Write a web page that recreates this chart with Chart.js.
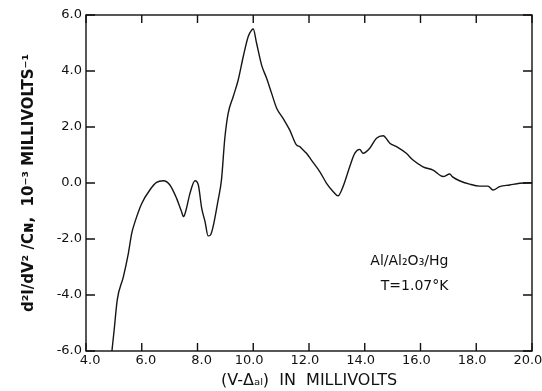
<!DOCTYPE html>
<html>
<head>
<meta charset="utf-8">
<script src="https://cdn.jsdelivr.net/npm/chart.js@4"></script>
<style>
  html, body { margin: 0; padding: 0; background: #fff; }
  #wrap { width: 542px; height: 391px; }
</style>
</head>
<body>
<div id="wrap"><canvas id="chart-d2i" width="542" height="391"></canvas></div>
<script>
// Trace: bias (mV) and d2I/dV2 / CN (1e-3 mV^-1)
const voltage = [4.93, 5.01, 5.12, 5.34, 5.52, 5.64, 5.76, 6.0, 6.29, 6.53, 6.77, 7.01, 7.25, 7.42, 7.5,
    7.58, 7.73, 7.91, 8.03, 8.15, 8.27, 8.38, 8.47, 8.56, 8.74, 8.86, 8.98, 9.1, 9.28, 9.46,
    9.64, 9.82, 9.94, 10.0, 10.12, 10.3, 10.48, 10.66, 10.84, 11.07, 11.31, 11.55, 11.67, 11.73, 11.91,
    12.1, 12.39, 12.63, 12.87, 13.04, 13.22, 13.46, 13.64, 13.82, 13.94, 14.18, 14.42, 14.66, 14.9, 15.14,
    15.49, 15.73, 16.09, 16.45, 16.81, 17.05, 17.15, 17.4, 17.76, 18.12, 18.42, 18.6, 18.84, 19.2, 19.56,
    19.91, 20.0];
const signal = [-6.0, -5.25, -4.18, -3.35, -2.51, -1.8, -1.38, -0.73, -0.25, 0.02, 0.08, -0.07, -0.55, -1.0, -1.2,
    -1.0, -0.37, 0.08, -0.07, -0.9, -1.38, -1.89, -1.85, -1.56, -0.61, 0.11, 1.6, 2.49, 3.08, 3.68,
    4.51, 5.23, 5.46, 5.5, 4.99, 4.21, 3.74, 3.2, 2.67, 2.31, 1.89, 1.36, 1.3, 1.24, 1.06,
    0.8, 0.4, -0.01, -0.31, -0.46, -0.13, 0.58, 1.06, 1.2, 1.06, 1.24, 1.6, 1.69, 1.42, 1.3,
    1.06, 0.82, 0.58, 0.46, 0.23, 0.32, 0.22, 0.08, -0.04, -0.11, -0.11, -0.25, -0.13, -0.07, -0.01,
    0.01, 0.0];

const xTitle = '(V-Δₐₗ)  IN  MILLIVOLTS';
const yTitle = 'd²I/dV² /Cɴ,  10⁻³ MILLIVOLTS⁻¹';
const noteLines = ['Al/Al₂O₃/Hg', 'T=1.07°K'];
const noteX = 17.0;
const noteY = [-2.81, -3.7];

const FONT = "'DejaVu Sans', sans-serif";

// hand-lettered labels sit a little off their ticks: one digit to the right, two digits to the left
function xLabel(v) {
    const s = v.toFixed(1);
    return v < 10 ? '  ' + s : s + '  ';
}

// frame round the plot plus inward ticks on all four sides
const framePlugin = {
    id: 'frame',
    afterDraw(chart) {
        const { ctx, chartArea: a, scales: { x, y } } = chart;
        ctx.save();
        ctx.strokeStyle = '#111';
        ctx.lineWidth = 1.4;
        ctx.strokeRect(a.left, a.top, a.right - a.left, a.bottom - a.top);
        ctx.beginPath();
        x.ticks.forEach(t => {
            const px = x.getPixelForValue(t.value);
            ctx.moveTo(px, a.bottom); ctx.lineTo(px, a.bottom - 8);
            ctx.moveTo(px, a.top); ctx.lineTo(px, a.top + 8);
        });
        y.ticks.forEach(t => {
            const py = y.getPixelForValue(t.value);
            ctx.moveTo(a.left, py); ctx.lineTo(a.left + 9, py);
            ctx.moveTo(a.right, py); ctx.lineTo(a.right - 9, py);
        });
        ctx.stroke();

        // sample note
        ctx.fillStyle = '#111';
        ctx.font = '14px ' + FONT;
        ctx.textAlign = 'right';
        ctx.textBaseline = 'middle';
        noteLines.forEach((txt, i) => {
            ctx.fillText(txt, x.getPixelForValue(noteX), y.getPixelForValue(noteY[i]));
        });
        ctx.restore();
    }
};

const ctx = document.getElementById('chart-d2i').getContext('2d');
new Chart(ctx, {
    type: 'scatter',
    data: {
        datasets: [{
            data: voltage.map((v, i) => ({ x: v, y: signal[i] })),
            showLine: true,
            borderColor: '#151515',
            borderWidth: 1.4,
            pointRadius: 0,
            cubicInterpolationMode: 'monotone'
        }]
    },
    options: {
        responsive: false,
        animation: false,
        layout: { padding: { top: 15, right: 10, left: 0, bottom: 0 } },
        plugins: { legend: { display: false }, tooltip: { enabled: false } },
        scales: {
            x: {
                type: 'linear',
                min: 4, max: 20,
                grid: { display: false, drawTicks: false },
                border: { display: false },
                ticks: {
                    stepSize: 2, padding: 2, color: '#111',
                    font: { family: FONT, size: 13 },
                    maxRotation: 0,
                    callback: xLabel
                },
                title: {
                    display: true, text: xTitle, color: '#111',
                    font: { family: FONT, size: 16 },
                    padding: { top: 0, bottom: 1 }
                },
                afterFit(scale) {
                    scale.height = 40;
                    scale.paddingLeft = 0;
                    scale.paddingRight = 0;
                }
            },
            y: {
                min: -6, max: 6,
                grid: { display: false, drawTicks: false },
                border: { display: false },
                ticks: {
                    stepSize: 2, padding: 4, color: '#111',
                    font: { family: FONT, size: 13 },
                    callback: v => v.toFixed(1)
                },
                title: {
                    display: true, text: yTitle, color: '#111',
                    font: { family: FONT, size: 15, weight: 'bold' },
                    padding: { top: 20, bottom: 0 }
                },
                afterFit(scale) {
                    scale.width = 86;
                    scale.paddingTop = 0;
                    scale.paddingBottom = 0;
                }
            }
        }
    },
    plugins: [framePlugin]
});
</script>
</body>
</html>
